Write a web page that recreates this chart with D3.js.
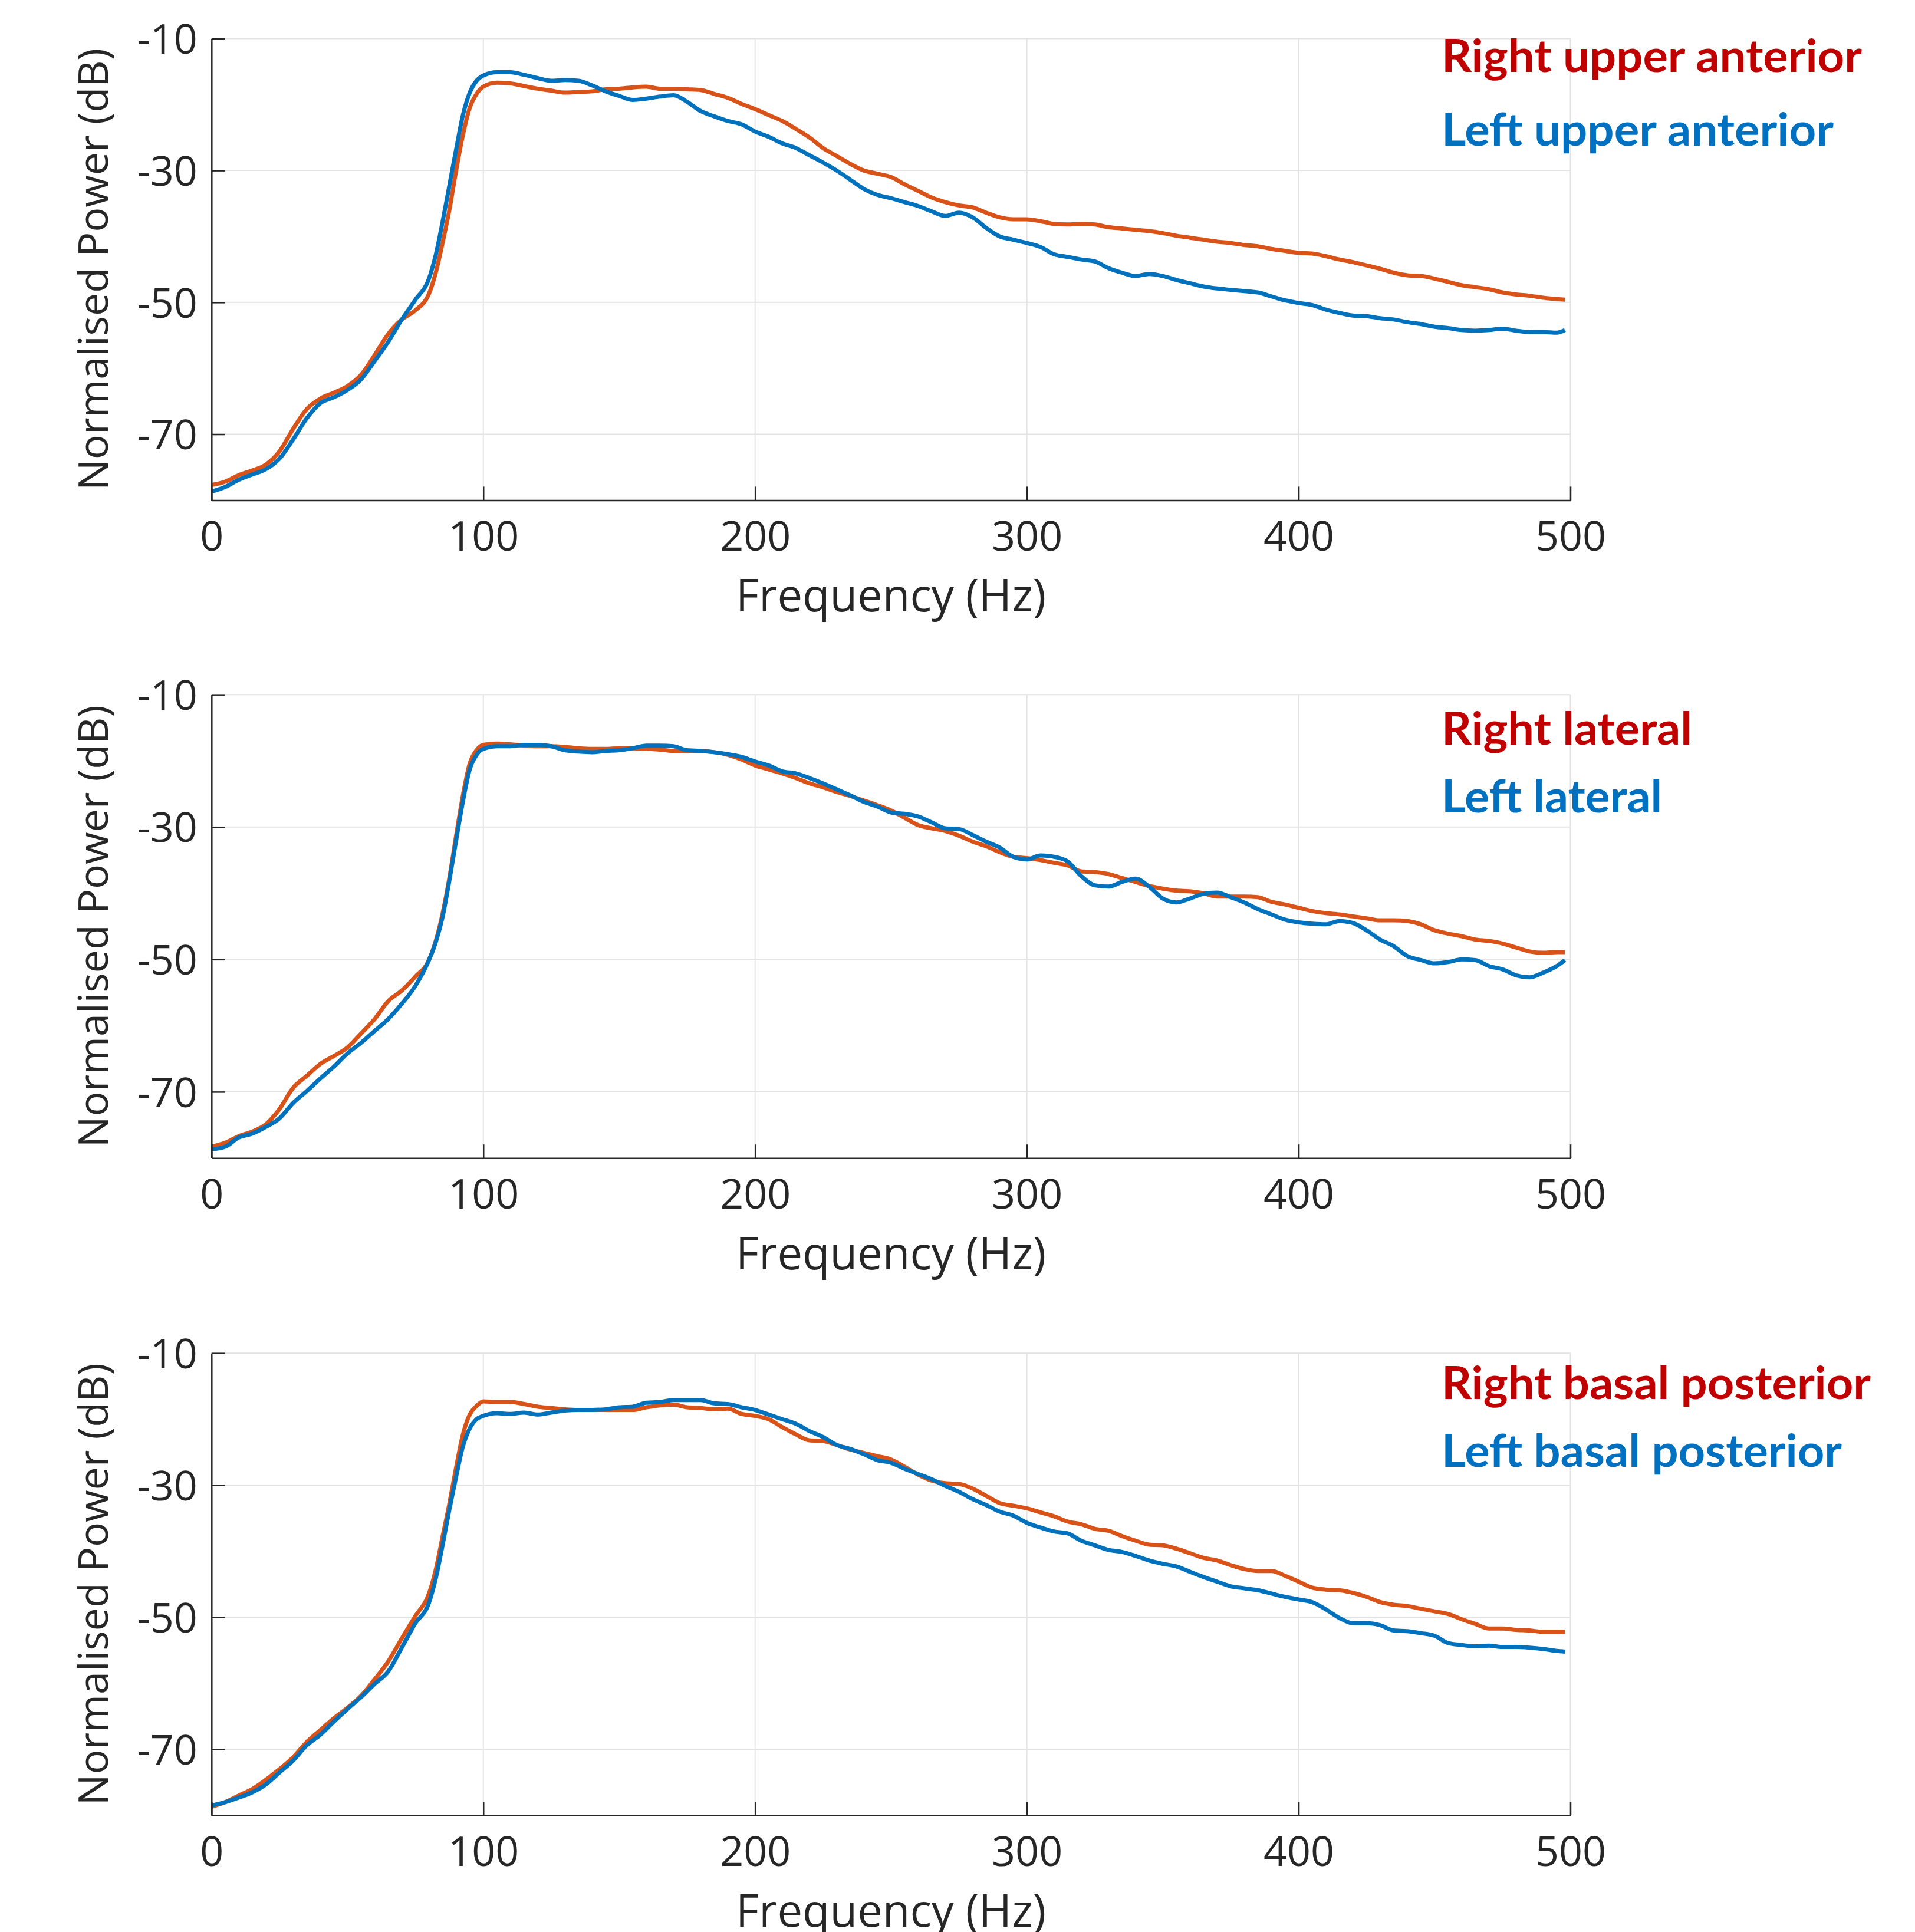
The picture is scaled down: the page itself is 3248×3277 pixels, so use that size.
<!DOCTYPE html>
<html>
<head>
<meta charset="utf-8">
<script src="https://cdn.jsdelivr.net/npm/d3@7"></script>
<style>
  html, body { margin: 0; padding: 0; background: #fff; }
  svg { display: block; }
</style>
</head>
<body>
<svg id="chart" width="3248" height="3277"></svg>
<script>
// frequency grid (Hz), finer where the curves rise steeply
var freq = [0,5,10,15,20,25,30,35,40,45,50,55,60,65,70,75,
  80,82.5,85,87.5,90,92.5,95,97.5,
  100,105,110,115,120,125,130,135,140,145,150,155,160,165,170,175,180,185,190,195,
  200,205,210,215,220,225,230,235,240,245,250,255,260,265,270,275,280,285,290,295,
  300,305,310,315,320,325,330,335,340,345,350,355,360,365,370,375,380,385,390,395,
  400,405,410,415,420,425,430,435,440,445,450,455,460,465,470,475,480,485,490,495,498];

// normalised power (dB)
var rightUpperAnterior = [-77.7,-77.2,-76.2,-75.5,-74.6,-72.6,-69.2,-66.2,-64.6,-63.7,-62.7,-61.0,-58.0,-54.8,-52.6,-51.2,
  -48.7,-45.5,-41.0,-36.0,-30.0,-24.6,-20.5,-18.4,
  -17.3,-16.7,-16.8,-17.2,-17.6,-17.9,-18.2,-18.1,-18.0,-17.7,-17.6,-17.4,-17.3,-17.6,-17.6,-17.7,-17.8,-18.4,-19.0,-19.9,
  -20.7,-21.6,-22.5,-23.7,-25.0,-26.6,-27.8,-29.0,-30.0,-30.5,-31.0,-32.1,-33.1,-34.1,-34.8,-35.3,-35.6,-36.4,-37.1,-37.4,
  -37.4,-37.7,-38.1,-38.2,-38.1,-38.2,-38.6,-38.8,-39.0,-39.2,-39.5,-39.9,-40.2,-40.5,-40.8,-41.0,-41.3,-41.5,-41.9,-42.2,
  -42.5,-42.6,-43.0,-43.5,-43.9,-44.4,-44.9,-45.5,-45.9,-46.0,-46.4,-46.9,-47.4,-47.7,-48.0,-48.5,-48.8,-49.0,-49.3,-49.5,-49.6];
var leftUpperAnterior = [-78.7,-78.0,-76.9,-76.1,-75.3,-73.7,-70.8,-67.6,-65.3,-64.4,-63.3,-61.7,-58.9,-56.0,-52.6,-49.6,
  -46.4,-42.8,-37.8,-32.3,-26.8,-21.6,-18.2,-16.4,
  -15.6,-15.1,-15.1,-15.5,-16.0,-16.4,-16.3,-16.4,-17.1,-18.0,-18.7,-19.3,-19.1,-18.8,-18.6,-19.6,-21.0,-21.8,-22.5,-23.0,
  -24.1,-24.9,-25.9,-26.6,-27.7,-28.8,-30.0,-31.4,-32.8,-33.7,-34.2,-34.8,-35.4,-36.2,-36.9,-36.4,-37.1,-38.7,-40.0,-40.5,
  -41.0,-41.6,-42.7,-43.1,-43.5,-43.8,-44.8,-45.5,-46.0,-45.7,-46.0,-46.6,-47.1,-47.6,-47.9,-48.1,-48.3,-48.5,-49.1,-49.7,
  -50.1,-50.4,-51.1,-51.6,-52.0,-52.1,-52.4,-52.6,-53.0,-53.3,-53.7,-53.9,-54.2,-54.3,-54.2,-54.0,-54.3,-54.5,-54.5,-54.6,-54.2];

var rightLateral = [-78.3,-77.7,-76.7,-76.0,-74.9,-72.6,-69.4,-67.6,-65.8,-64.6,-63.3,-61.2,-59.0,-56.3,-54.7,-52.6,
  -50.1,-47.2,-43.1,-37.7,-31.3,-25.2,-20.4,-18.4,
  -17.6,-17.4,-17.5,-17.7,-17.8,-17.8,-17.9,-18.1,-18.2,-18.2,-18.1,-18.1,-18.2,-18.3,-18.5,-18.5,-18.5,-18.7,-19.1,-19.8,
  -20.7,-21.3,-21.9,-22.6,-23.4,-24.0,-24.7,-25.3,-26.0,-26.7,-27.5,-28.6,-29.7,-30.2,-30.6,-31.3,-32.2,-32.9,-33.8,-34.5,
  -34.7,-35.0,-35.4,-35.8,-36.7,-36.8,-37.1,-37.7,-38.3,-38.9,-39.3,-39.6,-39.7,-40.0,-40.5,-40.5,-40.5,-40.6,-41.3,-41.7,
  -42.2,-42.7,-43.0,-43.2,-43.5,-43.8,-44.1,-44.1,-44.2,-44.7,-45.6,-46.1,-46.5,-47.0,-47.2,-47.6,-48.2,-48.8,-49.0,-48.9,-48.9];
var leftLateral = [-78.7,-78.3,-76.9,-76.3,-75.3,-74.0,-71.7,-69.9,-68.0,-66.2,-64.2,-62.6,-60.8,-59.0,-56.7,-54.0,
  -50.1,-47.4,-43.6,-38.1,-32.0,-26.1,-21.3,-19.1,
  -18.2,-17.8,-17.8,-17.6,-17.6,-17.8,-18.4,-18.6,-18.7,-18.5,-18.4,-18.1,-17.7,-17.7,-17.8,-18.4,-18.5,-18.7,-19.0,-19.4,
  -20.1,-20.7,-21.6,-21.9,-22.6,-23.4,-24.3,-25.2,-26.2,-26.9,-27.8,-28.0,-28.4,-29.3,-30.2,-30.3,-31.2,-32.2,-33.1,-34.5,
  -34.9,-34.3,-34.5,-35.2,-37.4,-38.8,-39.0,-38.3,-37.8,-39.0,-40.8,-41.4,-40.8,-40.1,-39.9,-40.6,-41.4,-42.4,-43.2,-44.0,
  -44.4,-44.6,-44.7,-44.2,-44.5,-45.6,-47.0,-48.0,-49.5,-50.1,-50.6,-50.4,-50.0,-50.1,-51.0,-51.5,-52.4,-52.7,-52.0,-51.0,-50.1];

var rightBasalPosterior = [-78.7,-78.0,-77.0,-76.0,-74.6,-73.0,-71.2,-68.9,-67.1,-65.3,-63.7,-61.9,-59.4,-56.7,-53.2,-49.8,
  -46.4,-42.8,-37.8,-32.8,-27.3,-22.3,-19.3,-18.0,
  -17.3,-17.4,-17.4,-17.7,-18.1,-18.3,-18.5,-18.6,-18.6,-18.6,-18.6,-18.6,-18.2,-17.9,-17.8,-18.2,-18.3,-18.5,-18.4,-19.2,
  -19.5,-20.0,-21.2,-22.3,-23.2,-23.3,-23.9,-24.6,-25.1,-25.6,-26.1,-27.2,-28.4,-29.3,-29.7,-29.8,-30.5,-31.6,-32.7,-33.1,
  -33.5,-34.1,-34.7,-35.5,-35.9,-36.6,-36.9,-37.7,-38.4,-39.0,-39.1,-39.6,-40.3,-41.0,-41.4,-42.1,-42.7,-43.0,-43.0,-43.7,
  -44.6,-45.5,-45.8,-45.9,-46.3,-46.9,-47.7,-48.1,-48.3,-48.7,-49.1,-49.5,-50.3,-51.0,-51.7,-51.7,-51.9,-52.0,-52.2,-52.2,-52.2];
var leftBasalPosterior = [-78.5,-78.0,-77.3,-76.5,-75.3,-73.5,-71.7,-69.4,-67.8,-65.8,-63.9,-62.1,-60.1,-58.2,-54.6,-50.9,
  -47.8,-44.1,-39.1,-33.7,-28.7,-24.1,-21.4,-20.0,
  -19.5,-19.1,-19.2,-19.0,-19.3,-19.0,-18.7,-18.6,-18.6,-18.5,-18.2,-18.1,-17.5,-17.4,-17.1,-17.1,-17.1,-17.6,-17.7,-18.2,
  -18.6,-19.3,-20.0,-20.7,-21.8,-22.7,-23.9,-24.5,-25.3,-26.2,-26.6,-27.5,-28.3,-29.1,-30.1,-31.0,-32.1,-33.0,-34.0,-34.6,
  -35.7,-36.4,-37.0,-37.3,-38.4,-39.1,-39.8,-40.1,-40.7,-41.4,-41.9,-42.3,-43.1,-43.9,-44.6,-45.3,-45.6,-45.9,-46.4,-46.9,
  -47.3,-47.7,-48.8,-50.1,-50.9,-50.9,-51.2,-52.0,-52.1,-52.4,-52.8,-53.9,-54.2,-54.4,-54.3,-54.5,-54.5,-54.6,-54.8,-55.1,-55.2];

var xTicks = [0, 100, 200, 300, 400, 500];
var yTicks = [-10, -30, -50, -70];
var rightLabels = ['Right upper anterior', 'Right lateral', 'Right basal posterior'];
var leftLabels  = ['Left upper anterior', 'Left lateral', 'Left basal posterior'];
var rightSeries = [rightUpperAnterior, rightLateral, rightBasalPosterior];
var leftSeries  = [leftUpperAnterior, leftLateral, leftBasalPosterior];

// layout
var panelTop = [65.4, 1178.2, 2295.2];
var panelHeight = [783, 786, 784];
var plotLeft = 358.8, plotRight = 2663.5;
var rightLabelWidth = [713, 425, 728];
var leftLabelWidth  = [665, 374, 679];
var legendBase = [[122, 247], [1263, 1378], [2373, 2488]];

var axisColor = '#262626';
var gridColor = '#e3e3e3';
var redLine = '#D95319', blueLine = '#0072BD';
var redText = '#C00000', blueText = '#0070C0';
var tickFont = '"Open Sans", "DejaVu Sans", sans-serif';

var svg = d3.select('#chart');
svg.append('rect').attr('width', 3248).attr('height', 3277).attr('fill', '#fff');

var x = d3.scaleLinear().domain([0, 500]).range([plotLeft, plotRight]);

panelTop.forEach(function(top, i){
  var h = panelHeight[i];
  var y = d3.scaleLinear().domain([-80, -10]).range([top + h, top]);
  var g = svg.append('g').attr('class', 'panel panel_' + i);

  // grid lines (incl. top and right frame)
  g.selectAll('.vgrid')
    .data(xTicks.slice(1))
    .enter().append('line')
    .attr('x1', function(d){ return x(d); })
    .attr('x2', function(d){ return x(d); })
    .attr('y1', top).attr('y2', top + h)
    .attr('stroke', gridColor).attr('stroke-width', 2);
  g.selectAll('.hgrid')
    .data(yTicks)
    .enter().append('line')
    .attr('x1', plotLeft).attr('x2', plotRight)
    .attr('y1', function(d){ return y(d); })
    .attr('y2', function(d){ return y(d); })
    .attr('stroke', gridColor).attr('stroke-width', 2);

  // curves: right first, left drawn on top
  var line = d3.line()
    .x(function(d, k){ return x(freq[k]); })
    .y(function(d){ return y(d); })
    .curve(d3.curveMonotoneX);

  g.append('path').datum(rightSeries[i])
    .attr('d', line).attr('fill', 'none')
    .attr('stroke', redLine).attr('stroke-width', 7)
    .attr('stroke-linejoin', 'round');
  g.append('path').datum(leftSeries[i])
    .attr('d', line).attr('fill', 'none')
    .attr('stroke', blueLine).attr('stroke-width', 7)
    .attr('stroke-linejoin', 'round');

  // axes, inward ticks
  var yAxis = d3.axisLeft(y).tickValues(yTicks).tickSizeInner(-23).tickSizeOuter(0)
    .tickPadding(24).tickFormat(d3.format('d'));
  var xAxis = d3.axisBottom(x).tickValues(xTicks).tickSizeInner(-23).tickSizeOuter(0)
    .tickPadding(36).tickFormat(d3.format('d'));

  var ya = g.append('g').attr('transform', 'translate(' + plotLeft + ',0)').call(yAxis);
  var xa = g.append('g').attr('transform', 'translate(0,' + (top + h) + ')').call(xAxis);
  [ya, xa].forEach(function(a){
    a.select('.domain').attr('stroke', axisColor).attr('stroke-width', 2.5);
    a.selectAll('.tick line').attr('stroke', axisColor).attr('stroke-width', 2.5);
    a.selectAll('.tick text').attr('fill', axisColor)
      .style('font-family', tickFont).style('font-size', '70px');
  });
  ya.selectAll('.tick text').attr('dy', '0.36em');
  ya.selectAll('.tick text').text(function(d){ return '-' + Math.abs(d); });

  // axis titles
  g.append('text')
    .attr('x', (plotLeft + plotRight) / 2).attr('y', top + h + 189)
    .attr('text-anchor', 'middle')
    .attr('fill', axisColor)
    .style('font-family', tickFont).style('font-size', '76px')
    .text('Frequency (Hz)');
  g.append('text')
    .attr('transform', 'translate(183,' + (top + h / 2) + ') rotate(-90)')
    .attr('text-anchor', 'middle')
    .attr('fill', axisColor)
    .style('font-family', tickFont).style('font-size', '70px')
    .text('Normalised Power (dB)');

  // legend labels
  g.append('text')
    .attr('x', 2445).attr('y', legendBase[i][0])
    .attr('fill', redText)
    .attr('textLength', rightLabelWidth[i]).attr('lengthAdjust', 'spacingAndGlyphs')
    .style('font-family', 'Lato, "Open Sans", sans-serif')
    .style('font-weight', 'bold').style('font-size', '76px')
    .text(rightLabels[i]);
  g.append('text')
    .attr('x', 2445).attr('y', legendBase[i][1])
    .attr('fill', blueText)
    .attr('textLength', leftLabelWidth[i]).attr('lengthAdjust', 'spacingAndGlyphs')
    .style('font-family', 'Lato, "Open Sans", sans-serif')
    .style('font-weight', 'bold').style('font-size', '76px')
    .text(leftLabels[i]);
});
</script>
</body>
</html>
